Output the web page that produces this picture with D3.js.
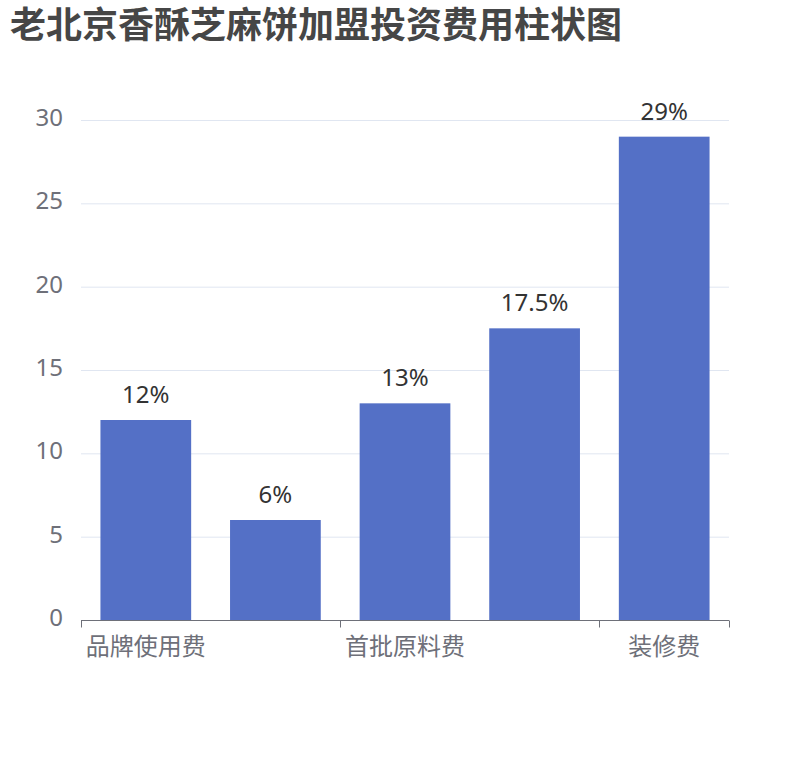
<!DOCTYPE html>
<html>
<head>
<meta charset="utf-8">
<script src="https://cdn.jsdelivr.net/npm/d3@7"></script>
<style>
  body { margin: 0; background: #fff; }
  text { font-family: "Noto Sans", "Noto Sans CJK SC", sans-serif; }
</style>
</head>
<body>
<div id="chart"></div>
<script>
const title = '老北京香酥芝麻饼加盟投资费用柱状图';
const categories = ['品牌使用费', '加盟保证金', '首批原料费', '设备购置费', '装修费'];
const values = [12, 6, 13, 17.5, 29];
const yTicks = [0, 5, 10, 15, 20, 25, 30];

const W = 810, H = 760;
const M = { left: 81, right: 81, top: 120, bottom: 140 };

const svg = d3.select('#chart').append('svg')
  .attr('width', W).attr('height', H);

svg.append('text')
  .attr('x', 10).attr('y', 38)
  .attr('font-size', 36).attr('font-weight', 'bold')
  .attr('fill', '#464646')
  .text(title);

const x = d3.scaleBand()
  .domain(categories)
  .range([M.left, W - M.right])
  .paddingInner(0.3).paddingOuter(0.15);

const y = d3.scaleLinear()
  .domain([0, 30])
  .range([H - M.bottom, M.top]);

// grid lines
svg.append('g').selectAll('line')
  .data(yTicks.filter(d => d > 0))
  .enter().append('line')
  .attr('x1', M.left).attr('x2', W - M.right)
  .attr('y1', d => y(d) + 0.5).attr('y2', d => y(d) + 0.5)
  .attr('stroke', '#E0E6F1');

// y labels
svg.append('g').selectAll('text')
  .data(yTicks)
  .enter().append('text')
  .attr('x', M.left - 18)
  .attr('y', d => y(d) + 6)
  .attr('text-anchor', 'end')
  .attr('font-size', 24)
  .attr('fill', '#6E7079')
  .text(d => d);

// bars
svg.append('g').selectAll('rect')
  .data(values)
  .enter().append('rect')
  .attr('x', (d, i) => x(categories[i]))
  .attr('width', x.bandwidth())
  .attr('y', d => y(d))
  .attr('height', d => y(0) - y(d))
  .attr('fill', '#5470C6');

// bar labels
svg.append('g').selectAll('text')
  .data(values)
  .enter().append('text')
  .attr('x', (d, i) => x(categories[i]) + x.bandwidth() / 2)
  .attr('y', d => y(d) - 17)
  .attr('text-anchor', 'middle')
  .attr('font-size', 24)
  .attr('fill', '#333')
  .text(d => d + '%');

// x axis line + ticks on every other category boundary
const x0 = M.left, axisY = y(0) + 0.5;
const span = W - M.right - M.left;
svg.append('line')
  .attr('x1', x0).attr('x2', W - M.right)
  .attr('y1', axisY).attr('y2', axisY)
  .attr('stroke', '#6E7079');

const tickIdx = [0, 2, 4, categories.length];
svg.append('g').selectAll('line')
  .data(tickIdx)
  .enter().append('line')
  .attr('x1', i => Math.round(x0 + i * span / categories.length) + 0.5)
  .attr('x2', i => Math.round(x0 + i * span / categories.length) + 0.5)
  .attr('y1', axisY).attr('y2', axisY + 7)
  .attr('stroke', '#6E7079');

// x labels (every other one shown)
svg.append('g').selectAll('text')
  .data(categories.filter((d, i) => i % 2 === 0))
  .enter().append('text')
  .attr('x', d => x(d) + x.bandwidth() / 2)
  .attr('y', axisY + 34)
  .attr('text-anchor', 'middle')
  .attr('font-size', 24)
  .attr('fill', '#6E7079')
  .text(d => d);
</script>
</body>
</html>
